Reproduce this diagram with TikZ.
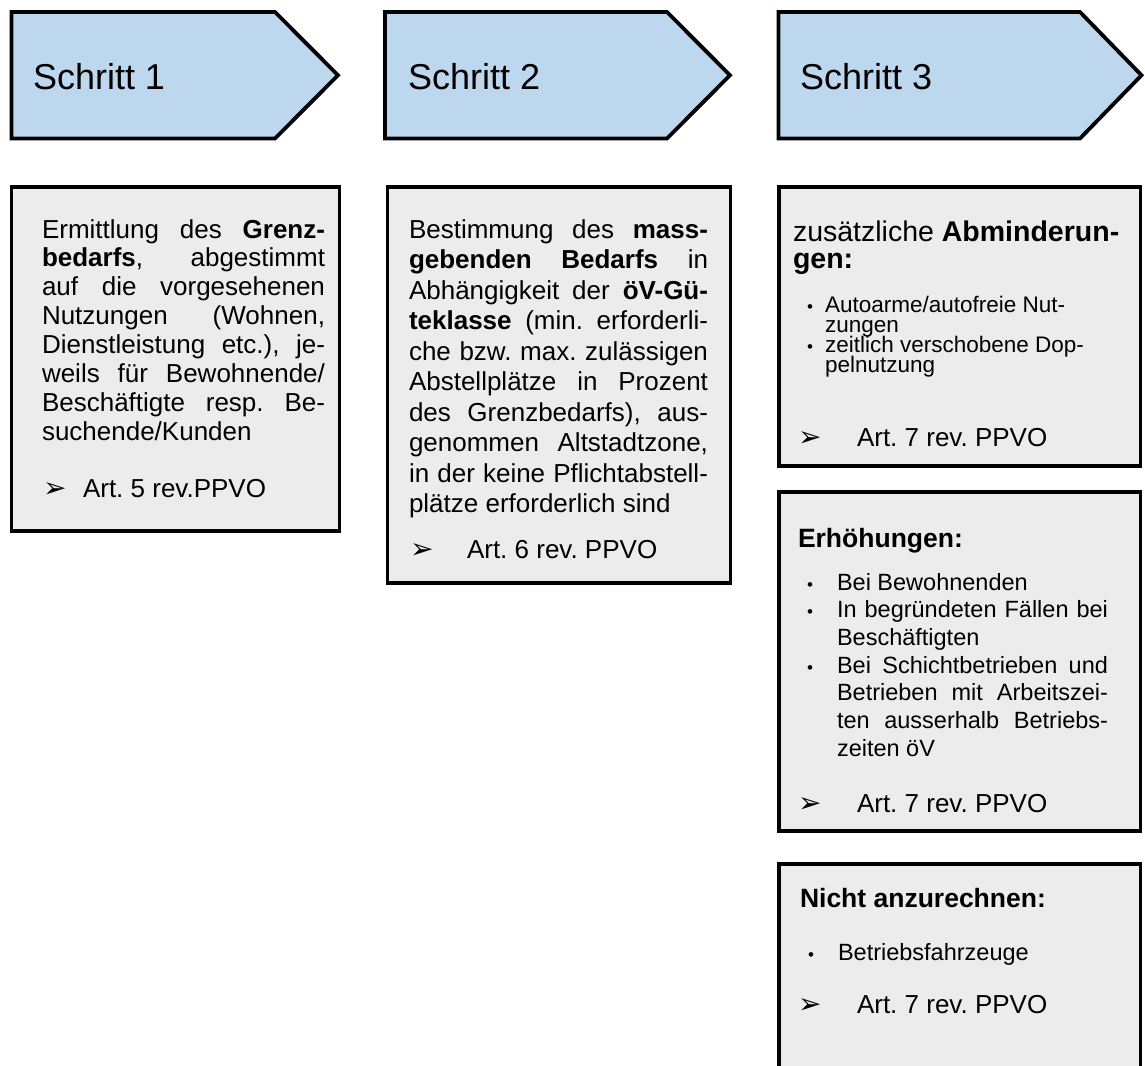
\documentclass[tikz,border=0pt]{standalone}
\usepackage{fontspec}
\setmainfont{Liberation Sans}
\newfontfamily\symfont{DejaVu Sans}
\definecolor{arrowblue}{RGB}{189,215,238}
\definecolor{boxgray}{RGB}{236,236,236}
\frenchspacing
\newcommand\jline[1]{\makebox[\linewidth][s]{#1}\par}
\newcommand\fline[1]{\makebox[\linewidth][l]{#1}\par}
\newcommand\artmark{{\symfont\fontsize{28}{28}\selectfont ➢}}
\newcommand\bul[1]{\llap{{\fontsize{17}{17}\selectfont •}\hspace{#1}}}
\newcommand\bodyfont[2]{\fontsize{#1}{#2}\selectfont\frenchspacing\lineskip=0pt\lineskiplimit=-200pt}
\begin{document}
\begin{tikzpicture}[x=1pt,y=-1pt,
  steparrow/.style={draw=black,line width=3.8pt,fill=arrowblue,line join=miter},
  infobox/.style={draw=black,line width=3.8pt,fill=boxgray},
  txt/.style={anchor=base west,inner sep=0pt,outer sep=0pt,text=black},
  steplabel/.style={txt,font=\fontsize{36}{38}\selectfont}]
\useasboundingbox (0,0) rectangle (1145,1065);
\fill[white] (0,0) rectangle (1145,1065);

% step arrows
\draw[steparrow] (11.5,12) -- (275,12) -- (338,75.25) -- (275,138.5) -- (11.5,138.5) -- cycle;
\draw[steparrow] (385,12) -- (667,12) -- (730,75.25) -- (667,138.5) -- (385,138.5) -- cycle;
\draw[steparrow] (778.5,12) -- (1080,12) -- (1141.5,75.25) -- (1080,138.5) -- (778.5,138.5) -- cycle;
\node[steplabel] (s1) at (33,89.5) {Schritt 1};
\node[steplabel] (s2) at (408,89.5) {Schritt 2};
\node[steplabel] (s3) at (800,89.5) {Schritt 3};

% boxes
\draw[infobox] (11.5,187) rectangle (339.5,531);
\draw[infobox] (387.5,187) rectangle (730.5,583);
\draw[infobox] (779,187) rectangle (1140.5,466);
\draw[infobox] (779,492) rectangle (1140.5,831);
\draw[infobox] (779,864) rectangle (1140.5,1090);

% box 1
\node[txt] (b1) at (42,238) {\parbox[t]{283pt}{\bodyfont{26}{28.9}%
\jline{Ermittlung des \textbf{Grenz-}}
\jline{\textbf{bedarfs}, abgestimmt}
\jline{auf die vorgesehenen}
\jline{Nutzungen (Wohnen,}
\jline{Dienstleistung etc.), je-}
\jline{weils für Bewohnende/}
\jline{Beschäftigte resp. Be-}
\fline{suchende/Kunden}}};
\node[txt] (a1) at (43,497) {\makebox[40pt][l]{\artmark}\fontsize{26}{28}\selectfont Art. 5 rev.PPVO};

% box 2
\node[txt] (b2) at (409,238) {\parbox[t]{299pt}{\bodyfont{26}{30.5}%
\jline{Bestimmung des \textbf{mass-}}
\jline{\textbf{gebenden Bedarfs} in}
\jline{Abhängigkeit der \textbf{öV-Gü-}}
\jline{\textbf{teklasse} (min. erforderli-}
\jline{che bzw. max. zulässigen}
\jline{Abstellplätze in Prozent}
\jline{des Grenzbedarfs), aus-}
\jline{genommen Altstadtzone,}
\jline{in der keine Pflichtabstell-}
\fline{plätze erforderlich sind}}};
\node[txt] (a2) at (410,558) {\makebox[57pt][l]{\artmark}\fontsize{26}{28}\selectfont Art. 6 rev. PPVO};

% box 3a
\node[txt] (h3a) at (793,241) {\parbox[t]{330pt}{\bodyfont{28.5}{27}%
\fline{zusätzliche \textbf{Abminderun-}}
\fline{\textbf{gen:}}}};
\node[txt] (l3a) at (825,312) {\parbox[t]{274pt}{\bodyfont{22.5}{20.3}%
\fline{\bul{12pt}Autoarme/autofreie Nut-}
\fline{zungen}
\fline{\bul{12pt}zeitlich verschobene Dop-}
\fline{pelnutzung}}};
\node[txt] (a3a) at (798,446) {\makebox[59pt][l]{\artmark}\fontsize{26}{28}\selectfont Art. 7 rev. PPVO};

% box 3b
\node[txt] (h3b) at (798,547) {\fontsize{26.5}{28}\selectfont\bfseries Erhöhungen:};
\node[txt] (l3b) at (837,590) {\parbox[t]{271pt}{\bodyfont{23.5}{27.7}%
\fline{\bul{24pt}Bei Bewohnenden}
\jline{\bul{24pt}In begründeten Fällen bei}
\fline{Beschäftigten}
\jline{\bul{24pt}Bei Schichtbetrieben und}
\jline{Betrieben mit Arbeitszei-}
\jline{ten ausserhalb Betriebs-}
\fline{zeiten öV}}};
\node[txt] (a3b) at (798,812) {\makebox[59pt][l]{\artmark}\fontsize{26}{28}\selectfont Art. 7 rev. PPVO};

% box 3c
\node[txt] (h3c) at (800,907) {\fontsize{26.5}{28}\selectfont\bfseries Nicht anzurechnen:};
\node[txt] (l3c) at (838,960) {\fontsize{23.5}{27.7}\selectfont\bul{24pt}Betriebsfahrzeuge};
\node[txt] (a3c) at (798,1013) {\makebox[59pt][l]{\artmark}\fontsize{26}{28}\selectfont Art. 7 rev. PPVO};
\end{tikzpicture}
\end{document}
